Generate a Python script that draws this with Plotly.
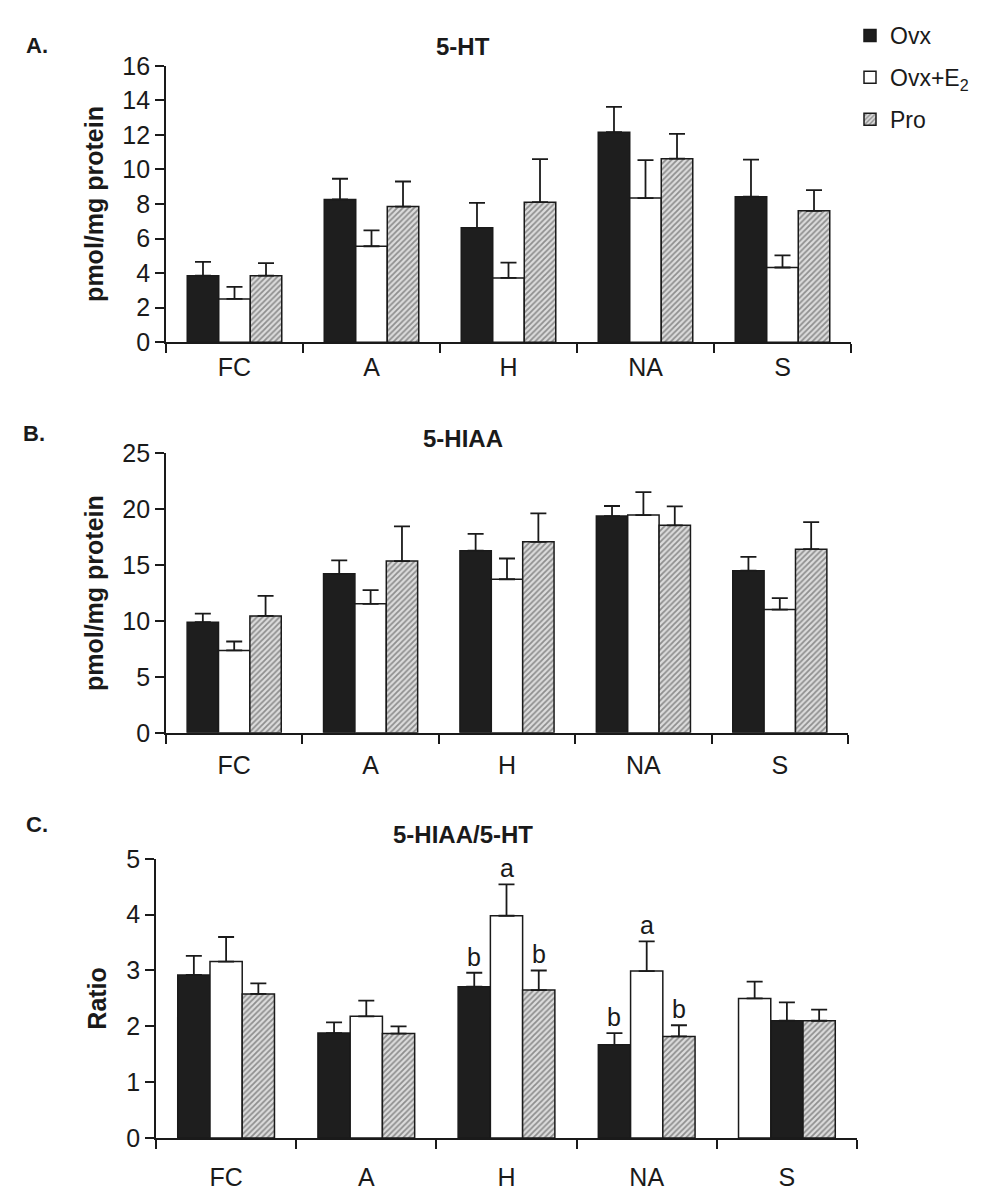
import plotly.graph_objects as go

# ---------------- data ----------------
categories = ["FC", "A", "H", "NA", "S"]
series = ["Ovx", "Ovx+E<sub>2</sub>", "Pro"]

# Panel A: 5-HT (pmol/mg protein)
ht_ovx = [3.85, 8.26, 6.62, 12.15, 8.42]
ht_ovx_err = [0.80, 1.20, 1.44, 1.47, 2.15]
ht_e2 = [2.50, 5.55, 3.72, 8.34, 4.32]
ht_e2_err = [0.70, 0.92, 0.88, 2.20, 0.70]
ht_pro = [3.85, 7.85, 8.10, 10.62, 7.60]
ht_pro_err = [0.72, 1.45, 2.50, 1.44, 1.20]

# Panel B: 5-HIAA (pmol/mg protein)
hiaa_ovx = [9.90, 14.23, 16.30, 19.40, 14.51]
hiaa_ovx_err = [0.77, 1.20, 1.50, 0.90, 1.23]
hiaa_e2 = [7.37, 11.54, 13.74, 19.49, 11.03]
hiaa_e2_err = [0.80, 1.23, 1.86, 2.05, 1.03]
hiaa_pro = [10.46, 15.37, 17.09, 18.57, 16.43]
hiaa_pro_err = [1.80, 3.10, 2.54, 1.70, 2.43]

# Panel C: 5-HIAA/5-HT ratio
ratio_ovx = [2.92, 1.88, 2.71, 1.67, 2.10]
ratio_ovx_err = [0.34, 0.19, 0.25, 0.21, 0.33]
ratio_e2 = [3.16, 2.18, 3.98, 2.99, 2.50]
ratio_e2_err = [0.44, 0.28, 0.56, 0.53, 0.30]
ratio_pro = [2.58, 1.87, 2.65, 1.82, 2.10]
ratio_pro_err = [0.19, 0.13, 0.35, 0.20, 0.20]

ratio_ovx_sig = ["", "", "b", "b", ""]
ratio_e2_sig = ["", "", "a", "a", ""]
ratio_pro_sig = ["", "", "b", "b", ""]

# in panel C the S group is drawn with Ovx+E2 first
ratio_order = {"S": [1, 0, 2]}

# ---------------- styling ----------------
INK = "#1a1a1a"
FONT = "Liberation Sans, Arial, sans-serif"
W = 0.23

styles = [
    dict(color="#1e1e1e", line=dict(color=INK, width=1.5)),
    dict(color="white", line=dict(color=INK, width=1.5)),
    dict(color="#dcdcdc", line=dict(color=INK, width=1.5),
         pattern=dict(shape="/", fgcolor="#404040", bgcolor="#dcdcdc", size=4, solidity=0.45)),
]

panels = [
    dict(vals=[ht_ovx, ht_e2, ht_pro], errs=[ht_ovx_err, ht_e2_err, ht_pro_err],
         sig=None, order={}, yrange=[0, 16], dtick=2, ytitle="pmol/mg protein",
         title="5-HT", letter="A.", standoff=2,
         xdom=[166 / 984, 851 / 984], ydom=[1 - 336 / 1197, 1 - 53 / 1197],
         title_y=33, letter_xy=(24, 32)),
    dict(vals=[hiaa_ovx, hiaa_e2, hiaa_pro], errs=[hiaa_ovx_err, hiaa_e2_err, hiaa_pro_err],
         sig=None, order={}, yrange=[0, 25], dtick=5, ytitle="pmol/mg protein",
         title="5-HIAA", letter="B.", standoff=9,
         xdom=[166 / 984, 848 / 984], ydom=[1 - 736 / 1197, 1 - 450 / 1197],
         title_y=435, letter_xy=(21, 430)),
    dict(vals=[ratio_ovx, ratio_e2, ratio_pro], errs=[ratio_ovx_err, ratio_e2_err, ratio_pro_err],
         sig=[ratio_ovx_sig, ratio_e2_sig, ratio_pro_sig], order=ratio_order,
         yrange=[0, 5], dtick=1, ytitle="Ratio",
         title="5-HIAA/5-HT", letter="C.", standoff=16,
         xdom=[156 / 984, 857 / 984], ydom=[1 - 1151 / 1197, 1 - 865 / 1197],
         title_y=840, letter_xy=(24, 830)),
]

fig = go.Figure()
annotations = []
layout = {}

for p, pan in enumerate(panels):
    sfx = "" if p == 0 else str(p + 1)
    for k in range(3):
        xs = []
        for i, cat in enumerate(categories):
            order = pan["order"].get(cat, [0, 1, 2])
            slot = order.index(k)
            xs.append(i + (slot - 1) * W)
        fig.add_trace(go.Bar(
            x=xs, y=pan["vals"][k], width=W,
            name=series[k], legendgroup=series[k], showlegend=(p == 0),
            marker=styles[k],
            error_y=dict(type="data", symmetric=False, array=pan["errs"][k],
                         arrayminus=[0] * len(categories),
                         color=INK, thickness=1.8, width=8),
            xaxis="x" + sfx, yaxis="y" + sfx,
            hoverinfo="skip",
        ))
        if pan["sig"] is not None:
            for i, s in enumerate(pan["sig"][k]):
                if s:
                    annotations.append(dict(
                        x=xs[i], y=pan["vals"][k][i] + pan["errs"][k][i],
                        xref="x" + sfx, yref="y" + sfx, text=s, showarrow=False,
                        yanchor="bottom", yshift=0,
                        font=dict(family=FONT, size=25, color=INK)))

    layout["xaxis" + sfx] = dict(
        domain=pan["xdom"], anchor="y" + sfx, range=[-0.5, len(categories) - 0.5],
        tickmode="array", tickvals=list(range(len(categories))), ticktext=categories,
        ticks="", showline=True, linecolor=INK, linewidth=1.8,
        showgrid=False, zeroline=False, ticklabelstandoff=pan["standoff"],
        tickfont=dict(family=FONT, size=25, color=INK),
        minor=dict(tickmode="array",
                   tickvals=[i - 0.5 for i in range(len(categories) + 1)],
                   ticks="outside", ticklen=9, tickwidth=1.8, tickcolor=INK),
        fixedrange=True,
    )
    layout["yaxis" + sfx] = dict(
        domain=pan["ydom"], anchor="x" + sfx, range=pan["yrange"], dtick=pan["dtick"],
        tick0=0, ticks="outside", ticklen=9, tickwidth=1.8, tickcolor=INK,
        showline=True, linecolor=INK, linewidth=1.8, showgrid=False, zeroline=False,
        tickfont=dict(family=FONT, size=25, color=INK),
        title=dict(text=pan["ytitle"], standoff=12,
                   font=dict(family=FONT, size=25, color=INK, weight="bold")),
        fixedrange=True,
    )
    annotations.append(dict(x=463 / 984, y=1 - pan["title_y"] / 1197, xref="paper", yref="paper",
                            text="<b>" + pan["title"] + "</b>", showarrow=False,
                            xanchor="center", yanchor="middle",
                            font=dict(family=FONT, size=24, color=INK)))
    lx, ly = pan["letter_xy"]
    annotations.append(dict(x=lx / 984, y=1 - ly / 1197, xref="paper", yref="paper",
                            text="<b>" + pan["letter"] + "</b>", showarrow=False,
                            xanchor="left", yanchor="middle",
                            font=dict(family=FONT, size=22, color=INK)))

fig.update_layout(
    width=984, height=1197,
    margin=dict(l=0, r=0, t=0, b=0),
    paper_bgcolor="white", plot_bgcolor="white",
    barmode="overlay",
    showlegend=True,
    legend=dict(x=850 / 984, y=1.0, xanchor="left", yanchor="top",
                xref="paper", yref="paper", bgcolor="rgba(0,0,0,0)",
                font=dict(family=FONT, size=23, color=INK),
                tracegroupgap=9, itemwidth=30),
    annotations=annotations,
    **layout,
)

fig.write_html("out.html")
